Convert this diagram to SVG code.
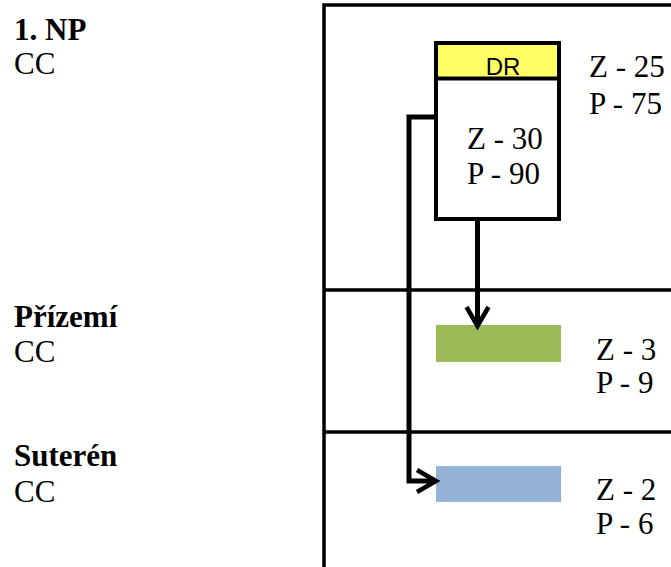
<svg xmlns="http://www.w3.org/2000/svg" width="671" height="567" viewBox="0 0 671 567">
<style>
.t{font-family:"Liberation Serif","Times New Roman",serif;font-size:31px;fill:#000}
.b{font-weight:bold}
.s{font-family:"Liberation Sans",Arial,sans-serif;font-size:24px;fill:#000}
.ln{stroke:#000;stroke-width:3.5;fill:none}
.cn{stroke:#000;stroke-width:5;fill:none}
</style>
<defs>
<marker id="ah" viewBox="-25 -14 30 28" refX="-3" refY="0" markerWidth="30" markerHeight="28" orient="auto" markerUnits="userSpaceOnUse">
<path d="M-19,-11 L0,0 L-19,11" fill="none" stroke="#000" stroke-width="4.5" stroke-linejoin="miter"/>
</marker>
</defs>
<g id="frame">
<path class="ln" d="M324,567 V5 H671 M324,290 H671 M324,432 H671"/>
</g>
<g id="labels">
<text class="t b" x="14" y="40">1. NP</text>
<text class="t" x="14" y="74">CC</text>
<text class="t b" x="14" y="327">Přízemí</text>
<text class="t" x="14" y="362">CC</text>
<text class="t b" x="14" y="466">Suterén</text>
<text class="t" x="14" y="502">CC</text>
</g>
<g id="dr">
<rect x="436" y="43" width="123" height="176" fill="#fff" stroke="#000" stroke-width="4"/>
<rect x="436" y="43" width="123" height="35.5" fill="#FFFF66" stroke="#000" stroke-width="4"/>
<text class="s" x="503" y="75" text-anchor="middle">DR</text>
<text class="t" x="467" y="149">Z - 30</text>
<text class="t" x="467" y="184">P - 90</text>
</g>
<g id="dr-values">
<text class="t" x="589" y="77">Z - 25</text>
<text class="t" x="589" y="114">P - 75</text>
</g>
<g id="prizemi">
<rect x="436" y="325" width="125" height="37" fill="#9BBB59"/>
<text class="t" x="596" y="360">Z - 3</text>
<text class="t" x="596" y="393">P - 9</text>
</g>
<g id="suteren">
<rect x="436" y="466" width="125" height="36" fill="#95B3D7"/>
<text class="t" x="596" y="500">Z - 2</text>
<text class="t" x="596" y="534">P - 6</text>
</g>
<g id="connectors">
<path class="cn" d="M477.5,221 V323" marker-end="url(#ah)"/>
<path class="cn" d="M436,117 H409 V481 H433" marker-end="url(#ah)"/>
</g>
</svg>
